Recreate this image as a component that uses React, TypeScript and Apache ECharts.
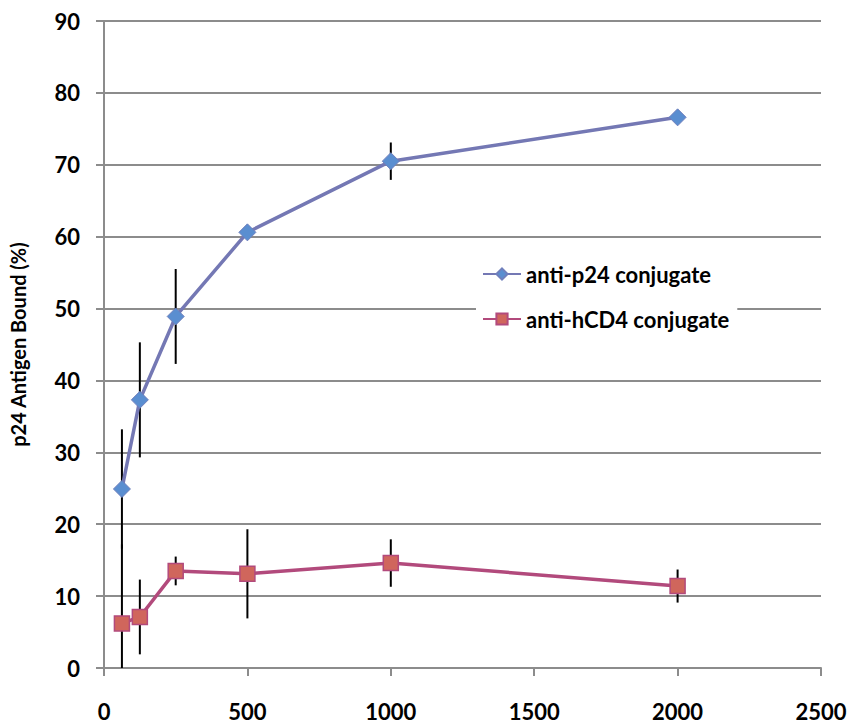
import { useEffect, useRef } from "react";
import * as echarts from "echarts";

const concentrations = [62.5, 125, 250, 500, 1000, 2000];
const p24Values = [24.9, 37.3, 48.9, 60.6, 70.5, 76.6];
const p24Errors = [8.3, 8.0, 6.6, 0.9, 2.6, 0];
const hcd4Values = [6.2, 7.1, 13.5, 13.1, 14.6, 11.4];
const hcd4Errors = [11.0, 5.2, 2.0, 6.2, 3.3, 2.3];
const seriesNames = ["anti-p24 conjugate", "anti-hCD4 conjugate"];

const FONT = "Lato, 'Open Sans', sans-serif";

function errorSeries(values: number[], errors: number[]) {
  return {
    type: "custom",
    z: 1,
    silent: true,
    data: concentrations.map((x, i) => [x, values[i] - errors[i], values[i] + errors[i]]),
    renderItem: (params: any, api: any) => {
      const lo = api.coord([api.value(0), Math.max(0, api.value(1))]);
      const hi = api.coord([api.value(0), api.value(2)]);
      return {
        type: "line",
        shape: { x1: lo[0], y1: lo[1], x2: hi[0], y2: hi[1] },
        style: { stroke: "#000", lineWidth: 2 },
      };
    },
  };
}

export default function App() {
  const ref = useRef<HTMLDivElement>(null);

  useEffect(() => {
    document.body.style.margin = "0";
    if (!ref.current) return;
    const chart = echarts.init(ref.current, undefined, { renderer: "svg" });
    chart.setOption({
      animation: false,
      grid: { left: 100, right: 32, top: 21, bottom: 55 },
      legend: {
        data: seriesNames,
        orient: "vertical",
        left: 476,
        top: 257,
        backgroundColor: "#fff",
        padding: [6, 8, 6, 6],
        itemGap: 23,
        itemWidth: 38,
        itemHeight: 14,
        textStyle: { fontFamily: FONT, fontWeight: "bold", fontSize: 22, color: "#000" },
      },
      xAxis: {
        type: "value",
        min: 0,
        max: 2500,
        interval: 500,
        axisLine: { onZero: false, lineStyle: { color: "#8c8c8c", width: 2 } },
        axisTick: { show: true, length: 8, lineStyle: { color: "#8c8c8c", width: 2 } },
        axisLabel: {
          margin: 32,
          formatter: (v: number) => String(v),
          fontFamily: FONT,
          fontWeight: "bold",
          fontSize: 22,
          color: "#000",
        },
        splitLine: { show: false },
      },
      yAxis: {
        type: "value",
        min: 0,
        max: 90,
        interval: 10,
        name: "p24 Antigen Bound (%)",
        nameLocation: "middle",
        nameGap: 76,
        nameTextStyle: { fontFamily: FONT, fontWeight: "bold", fontSize: 20, color: "#000" },
        axisLine: { show: true, lineStyle: { color: "#8c8c8c", width: 2 } },
        axisTick: { show: true, length: 8, lineStyle: { color: "#8c8c8c", width: 2 } },
        axisLabel: { margin: 24, fontFamily: FONT, fontWeight: "bold", fontSize: 22, color: "#000" },
        splitLine: { lineStyle: { color: "#8c8c8c", width: 2 } },
      },
      series: [
        errorSeries(p24Values, p24Errors),
        errorSeries(hcd4Values, hcd4Errors),
        {
          name: seriesNames[0],
          type: "line",
          z: 3,
          data: concentrations.map((x, i) => [x, p24Values[i]]),
          symbol: "diamond",
          symbolSize: 17,
          lineStyle: { color: "#7478b4", width: 3.5 },
          itemStyle: { color: "#5a8ed0", borderColor: "#6f7fbc", borderWidth: 1 },
        },
        {
          name: seriesNames[1],
          type: "line",
          z: 3,
          data: concentrations.map((x, i) => [x, hcd4Values[i]]),
          symbol: "rect",
          symbolSize: 15,
          lineStyle: { color: "#b24a7c", width: 3.5 },
          itemStyle: { color: "#d0665c", borderColor: "#b24a7c", borderWidth: 1.5 },
        },
      ],
    });
    return () => chart.dispose();
  }, []);

  return <div ref={ref} style={{ width: 853, height: 723 }} />;
}
